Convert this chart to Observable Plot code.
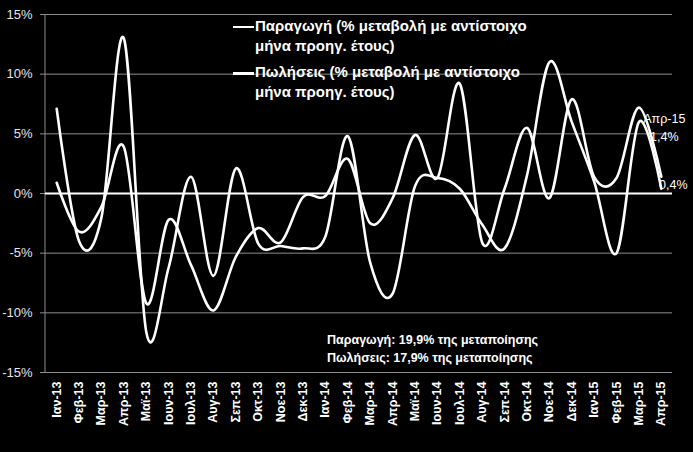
<!DOCTYPE html>
<html>
<head>
<meta charset="utf-8">
<script src="https://cdn.jsdelivr.net/npm/d3@7"></script>
<script src="https://cdn.jsdelivr.net/npm/@observablehq/plot@0.6"></script>
<style>
  html, body { margin: 0; padding: 0; background: #000; }
  #wrap { position: relative; width: 693px; height: 452px; background: #000; overflow: hidden;
          font-family: "Liberation Sans", Arial, sans-serif; color: #fff; }
  #wrap svg { position: absolute; left: 0; top: 0; }
  .legend { position: absolute; left: 233px; top: 16px; font-weight: bold; font-size: 15px; line-height: 20px; }
  .legend .item { position: relative; padding-left: 22px; margin-bottom: 6px; white-space: nowrap; }
  .legend .item .sw { position: absolute; left: 0; top: 10px; width: 21px; background: #fff; }
  .note { position: absolute; left: 327px; top: 331px; font-weight: bold; font-size: 12.5px; line-height: 18px; }
</style>
</head>
<body>
<div id="wrap">
  <div class="legend">
    <div class="item"><span class="sw" style="height:2px"></span>Παραγωγή (% μεταβολή με αντίστοιχο<br>μήνα προηγ. έτους)</div>
    <div class="item"><span class="sw" style="height:3px"></span>Πωλήσεις (% μεταβολή με αντίστοιχο<br>μήνα προηγ. έτους)</div>
  </div>
  <div class="note">Παραγωγή: 19,9% της μεταποίησης<br>Πωλήσεις: 17,9% της μεταποίησης</div>
</div>
<script>
const months = ["Ιαν-13","Φεβ-13","Μαρ-13","Απρ-13","Μαϊ-13","Ιουν-13","Ιουλ-13","Αυγ-13","Σεπ-13","Οκτ-13","Νοε-13","Δεκ-13",
                "Ιαν-14","Φεβ-14","Μαρ-14","Απρ-14","Μαϊ-14","Ιουν-14","Ιουλ-14","Αυγ-14","Σεπ-14","Οκτ-14","Νοε-14","Δεκ-14",
                "Ιαν-15","Φεβ-15","Μαρ-15","Απρ-15"];
const production = [7.1, -4.0, -2.0, 13.0, -11.6, -6.2, 1.4, -6.9, 2.1, -4.2, -4.4, -4.6,
                    -3.6, 4.8, -5.8, -8.4, 0.6, 1.3, 0.4, -2.6, -4.6, 1.5, 11.0, 6.0,
                    1.0, -5.0, 6.0, 0.4];
const sales = [0.9, -3.2, -1.1, 3.9, -9.2, -2.2, -6.0, -9.8, -5.3, -2.9, -4.1, -0.3,
               -0.2, 2.9, -2.5, -0.4, 4.9, 1.3, 9.2, -4.1, 0.4, 5.5, -0.4, 7.9,
               1.4, 1.3, 7.2, 1.4];
const yTicks = [-15, -10, -5, 0, 5, 10, 15];

const prodData = months.map((m, i) => ({month: m, value: production[i]}));
const salesData = months.map((m, i) => ({month: m, value: sales[i]}));
const fmt = v => v.toFixed(1).replace(".", ",") + "%";
const curve = d3.curveCatmullRom.alpha(0);

const axisLine = (index, scales, values, dims) => {
  const g = document.createElementNS("http://www.w3.org/2000/svg", "line");
  g.setAttribute("x1", dims.marginLeft); g.setAttribute("x2", dims.marginLeft);
  g.setAttribute("y1", dims.marginTop); g.setAttribute("y2", dims.height - dims.marginBottom);
  g.setAttribute("stroke", "#8c8c8c"); g.setAttribute("stroke-width", 1);
  return g;
};

const chart = Plot.plot({
  width: 693,
  height: 452,
  marginLeft: 45,
  marginRight: 21,
  marginTop: 14,
  marginBottom: 80,
  style: {background: "transparent", color: "#fff", fontFamily: "'Liberation Sans', Arial, sans-serif", overflow: "visible"},
  x: {type: "point", domain: months, padding: 0.5, round: false},
  y: {domain: [-15, 15]},
  marks: [
    Plot.gridY(yTicks, {stroke: "#8c8c8c", strokeOpacity: 1, strokeWidth: 1}),
    axisLine,
    Plot.axisY(yTicks, {tickFormat: d => d + "%", tickSize: 5, tickPadding: 8, stroke: "#8c8c8c", fill: "#e6e6e6", fontSize: 13, label: null}),
    Plot.axisX({tickRotate: -90, tickSize: 0, tickPadding: 9, fill: "#fff", fontSize: 12.5, fontWeight: "bold", label: null}),
    Plot.ruleY([0], {stroke: "#fff", strokeWidth: 2}),
    Plot.line(prodData, {x: "month", y: "value", stroke: "#fff", strokeWidth: 2.6, curve}),
    Plot.line(salesData, {x: "month", y: "value", stroke: "#fff", strokeWidth: 2.6, curve}),
    Plot.text(salesData.slice(-1), {x: "month", y: "value", text: d => d.month + "\n" + fmt(d.value),
      dx: 3, dy: -51, fill: "#fff", fontSize: 12.5, lineHeight: 1.45}),
    Plot.text(prodData.slice(-1), {x: "month", y: "value", text: d => fmt(d.value),
      dx: 12, dy: -4, fill: "#fff", fontSize: 12.5})
  ]
});
document.getElementById("wrap").prepend(chart);
</script>
</body>
</html>
